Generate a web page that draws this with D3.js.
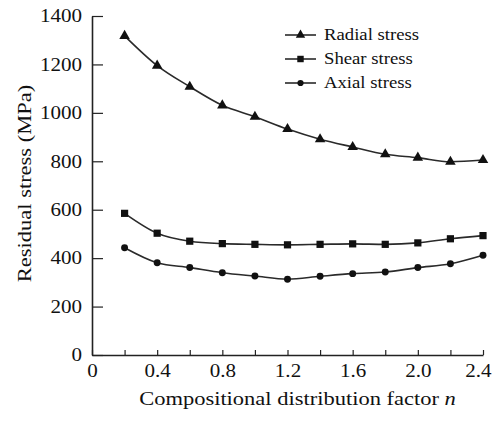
<!DOCTYPE html>
<html>
<head>
<meta charset="utf-8">
<script src="https://cdn.jsdelivr.net/npm/d3@7"></script>
<style>
  body { margin: 0; background: #fff; }
  svg { display: block; font-family: "Liberation Serif", "Times New Roman", serif; }
  .stretch { transform-box: fill-box; }
</style>
</head>
<body>
<div id="chart"></div>
<script>
// values
const nValues = [0.2, 0.4, 0.6, 0.8, 1.0, 1.2, 1.4, 1.6, 1.8, 2.0, 2.2, 2.4];
const radialStress = [1318, 1195, 1108, 1031, 984, 933, 891, 859, 829, 815, 798, 805];
const shearStress = [585, 503, 470, 460, 457, 455, 457, 459, 457, 463, 480, 493];
const axialStress = [443, 381, 361, 340, 326, 313, 325, 336, 343, 361, 377, 412];
const seriesNames = ["Radial stress", "Shear stress", "Axial stress"];
const xTickLabels = [0, 0.4, 0.8, 1.2, 1.6, 2.0, 2.4];
const yTickLabels = [0, 200, 400, 600, 800, 1000, 1200, 1400];

const W = 494, H = 421;
const margin = { left: 92, right: 11, top: 16, bottom: 66 };

const svg = d3.select("#chart").append("svg")
  .attr("width", W)
  .attr("height", H);

const x = d3.scaleLinear().domain([0, 2.4]).range([margin.left, W - margin.right]);
const y = d3.scaleLinear().domain([0, 1400]).range([H - margin.bottom, margin.top]);

// the reference text is wider than it is tall, so widen the glyphs a bit
function stretch(sel, k, origin) {
  sel.classed("stretch", true)
    .style("transform-origin", origin)
    .style("transform", `scaleX(${k})`);
}

// y axis
const yAxis = svg.append("g")
  .attr("transform", `translate(${margin.left},0)`)
  .call(d3.axisLeft(y).tickValues(yTickLabels).tickFormat(d3.format("d"))
    .tickSizeInner(-11).tickSizeOuter(0).tickPadding(10));
yAxis.attr("font-family", null).attr("font-size", null);
yAxis.select(".domain").attr("stroke", "#222").attr("stroke-width", 1.6);
yAxis.selectAll(".tick line").attr("stroke", "#222").attr("stroke-width", 1.2);
yAxis.selectAll(".tick text")
  .attr("fill", "#111")
  .style("font-size", "18px")
  .call(stretch, 1.17, "right center");

// x axis: ticks every 0.2, labels on 0.4 steps
const xTicks = d3.range(0, 13).map(i => +(i * 0.2).toFixed(1));
const xAxis = svg.append("g")
  .attr("transform", `translate(0,${H - margin.bottom})`)
  .call(d3.axisBottom(x).tickValues(xTicks).tickSizeInner(-5).tickSizeOuter(0).tickPadding(9)
    .tickFormat(d => xTickLabels.some(v => Math.abs(v - d) < 1e-9) ? (d === 0 ? "0" : d3.format(".1f")(d)) : ""));
xAxis.attr("font-family", null).attr("font-size", null);
xAxis.select(".domain").attr("stroke", "#222").attr("stroke-width", 1.6);
xAxis.selectAll(".tick line").attr("stroke", "#222").attr("stroke-width", 1.2);
xAxis.selectAll(".tick text")
  .attr("fill", "#111")
  .attr("x", d => d === 2.4 ? -5 : 0)
  .style("font-size", "18px")
  .call(stretch, 1.17, "center");

// axis titles
svg.append("text")
  .attr("x", (138 + 457) / 2)
  .attr("y", 405)
  .attr("text-anchor", "middle")
  .attr("fill", "#111")
  .style("font-size", "18px")
  .call(stretch, 1.25, "center")
  .call(t => {
    t.append("tspan").text("Compositional distribution factor ");
    t.append("tspan").attr("font-style", "italic").text("n");
  });

svg.append("g")
  .attr("transform", `translate(31,${(85 + 282) / 2}) rotate(-90)`)
  .append("text")
  .attr("text-anchor", "middle")
  .attr("fill", "#111")
  .style("font-size", "18px")
  .call(stretch, 1.25, "center")
  .text("Residual stress (MPa)");

// series
const series = [
  { name: seriesNames[0], values: radialStress, symbol: d3.symbolTriangle, size: 48 },
  { name: seriesNames[1], values: shearStress, symbol: d3.symbolSquare, size: 52 },
  { name: seriesNames[2], values: axialStress, symbol: d3.symbolCircle, size: 38 }
];

const line = d3.line()
  .x(d => x(d[0]))
  .y(d => y(d[1]))
  .curve(d3.curveMonotoneX);

series.forEach(s => {
  const pts = nValues.map((n, i) => [n, s.values[i]]);
  svg.append("path")
    .datum(pts)
    .attr("d", line)
    .attr("fill", "none")
    .attr("stroke", "#2a2a2a")
    .attr("stroke-width", 1.6);
  svg.selectAll(null)
    .data(pts)
    .join("path")
    .attr("transform", d => `translate(${x(d[0])},${y(d[1])})`)
    .attr("d", d3.symbol(s.symbol, s.size))
    .attr("fill", "#111");
});

// legend
const legendY = [35, 59, 83];
const legend = svg.append("g");
series.forEach((s, i) => {
  const g = legend.append("g").attr("transform", `translate(285,${legendY[i]})`);
  g.append("line")
    .attr("x1", 0).attr("x2", 31)
    .attr("stroke", "#2a2a2a").attr("stroke-width", 1.6);
  g.append("path")
    .attr("transform", "translate(15.5,0)")
    .attr("d", d3.symbol(s.symbol, s.size * 0.8))
    .attr("fill", "#111");
  g.append("text")
    .attr("x", 39)
    .attr("dy", "0.33em")
    .attr("fill", "#111")
    .style("font-size", "16px")
    .call(stretch, 1.17, "left center")
    .text(s.name);
});
</script>
</body>
</html>
